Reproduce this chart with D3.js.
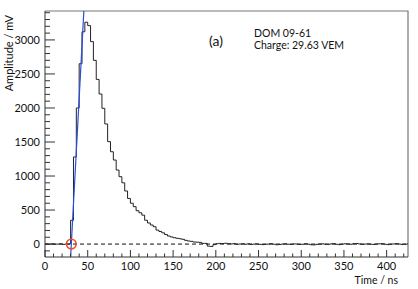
<!DOCTYPE html>
<html lang="en">
  <head>
    <style>
      html, body { margin: 0; padding: 0; background: #fff; }
      svg { display: block; }
      text { font-family: Lato, "Open Sans", sans-serif; fill: #111; }
    </style>
    <script src="https://d3js.org/d3.v7.min.js"></script>
  </head>
  <body>
    <svg width="418" height="289"></svg>
    <script>
      // histogram: bin width 10/3 ns, starting at t = 0
      var binWidth = 10 / 3;
      var amplitudes = [
        0, -3, 2, -2, 0, 3, -4, 0, 2,
        350, 1280, 2000, 2650, 3120, 3260, 3210, 2975, 2700, 2420,
        2205, 1995, 1765, 1505, 1357, 1235, 1088, 990, 900, 780,
        670, 600, 550, 490, 460, 425, 350, 310, 280, 255,
        205, 185, 165, 140, 118, 105, 93, 85, 78, 70,
        55, 45, 40, 30, 28, 25, 10, 10, -30, -35,
        -8, 5, 10, 8, 12, 5, 2, 6, -3, 0,
        4, -2, 3, -5, 0, 2, -4, -8, -3, 0,
        5, -2, -10, -6, 0, 3, -2, -5, 2, 0,
        -6, -3, 4, -1, -10, -12, -4, 0, 3, -2,
        -5, 2, 6, -3, -8, 0, 4, 2, -3, 5,
        8, 2, -4, 0, 3, -2, -6, 0, 4, 5,
        -2, -8, -3, 2, 6, 0, -5, -3, 2
      ];
      // leading-edge fit line and start time marker
      var fitPoints = [[30.8, 0], [45.5, 3425]];
      var startMarker = [30.8, 0];
      var xTicks = [0, 50, 100, 150, 200, 250, 300, 350, 400];
      var yTicks = [0, 500, 1000, 1500, 2000, 2500, 3000];
      var infoLines = ['DOM 09-61', 'Charge: 29.63 VEM'];

      var svg = d3.select('svg');
      var x = d3.scaleLinear().domain([0, 425]).range([45, 408]);
      var y = d3.scaleLinear().domain([-190, 3425]).range([257, 11]);

      svg.append('defs').append('clipPath').attr('id', 'plot')
        .append('rect').attr('x', 45).attr('y', 11).attr('width', 363).attr('height', 246);

      // frame
      svg.append('path')
        .attr('d', 'M45,11H408V257')
        .attr('fill', 'none').attr('stroke', '#777').attr('stroke-width', 1.2);

      // zero line
      svg.append('line')
        .attr('x1', x(0)).attr('x2', x(425)).attr('y1', y(0)).attr('y2', y(0))
        .attr('stroke', '#111').attr('stroke-dasharray', '4,3');

      var g = svg.append('g').attr('clip-path', 'url(#plot)');

      var hist = amplitudes.map(function(v, i) { return [i * binWidth, v]; });
      hist.push([amplitudes.length * binWidth, amplitudes[amplitudes.length - 1]]);

      g.append('path')
        .datum(hist)
        .attr('fill', 'none').attr('stroke', '#222').attr('stroke-width', 1)
        .attr('d', d3.line().curve(d3.curveStepAfter)
          .x(function(d) { return x(d[0]); })
          .y(function(d) { return y(d[1]); }));

      // extend fit line beyond plot, clipped
      var slope = (fitPoints[1][1] - fitPoints[0][1]) / (fitPoints[1][0] - fitPoints[0][0]);
      var fitExt = [-300, 3700].map(function(v) {
        return [fitPoints[0][0] + (v - fitPoints[0][1]) / slope, v];
      });
      g.append('path')
        .datum(fitExt)
        .attr('fill', 'none').attr('stroke', '#2b4de0').attr('stroke-width', 1.2)
        .attr('d', d3.line().x(function(d) { return x(d[0]); }).y(function(d) { return y(d[1]); }));

      svg.append('circle')
        .attr('cx', x(startMarker[0])).attr('cy', y(startMarker[1])).attr('r', 4.8)
        .attr('fill', 'none').attr('stroke', '#ee4a2a').attr('stroke-width', 1.6);

      // axes
      var xMinor = d3.range(0, 426, 10);
      var yMinor = d3.range(-100, 3401, 100);

      var xa = svg.append('g');
      xa.append('line').attr('x1', 45).attr('x2', 408).attr('y1', 257).attr('y2', 257)
        .attr('stroke', '#333');
      xa.selectAll('.mn').data(xMinor).enter().append('line')
        .attr('x1', x).attr('x2', x)
        .attr('y1', 257).attr('y2', function(d) { return d % 50 === 0 ? 250 : 253.5; })
        .attr('stroke', '#333');
      xa.selectAll('text').data(xTicks).enter().append('text')
        .attr('x', x).attr('y', 270).attr('text-anchor', 'middle')
        .attr('font-size', 11).text(function(d) { return d; });

      var ya = svg.append('g');
      ya.append('line').attr('x1', 45).attr('x2', 45).attr('y1', 11).attr('y2', 257)
        .attr('stroke', '#333');
      ya.selectAll('.mn').data(yMinor).enter().append('line')
        .attr('y1', y).attr('y2', y)
        .attr('x1', 45).attr('x2', function(d) { return d % 500 === 0 ? 55 : 50; })
        .attr('stroke', '#333');
      ya.selectAll('text').data(yTicks).enter().append('text')
        .attr('x', 40).attr('y', function(d) { return y(d) + 4; })
        .attr('text-anchor', 'end').attr('font-size', 11).text(function(d) { return d; });

      svg.append('text')
        .attr('transform', 'translate(13,15) rotate(-90)')
        .attr('text-anchor', 'end').attr('font-size', 11)
        .text('Amplitude / mV');

      svg.append('text')
        .attr('x', 398).attr('y', 284).attr('text-anchor', 'end').attr('font-size', 10.5)
        .text('Time / ns');

      svg.append('text')
        .attr('x', 209).attr('y', 45.5).attr('font-size', 14).text('(a)');

      svg.selectAll('.info').data(infoLines).enter().append('text')
        .attr('x', 254).attr('y', function(d, i) { return 36.5 + i * 12.7; })
        .attr('font-size', 10.5).text(function(d) { return d; });
    </script>
  </body>
</html>
